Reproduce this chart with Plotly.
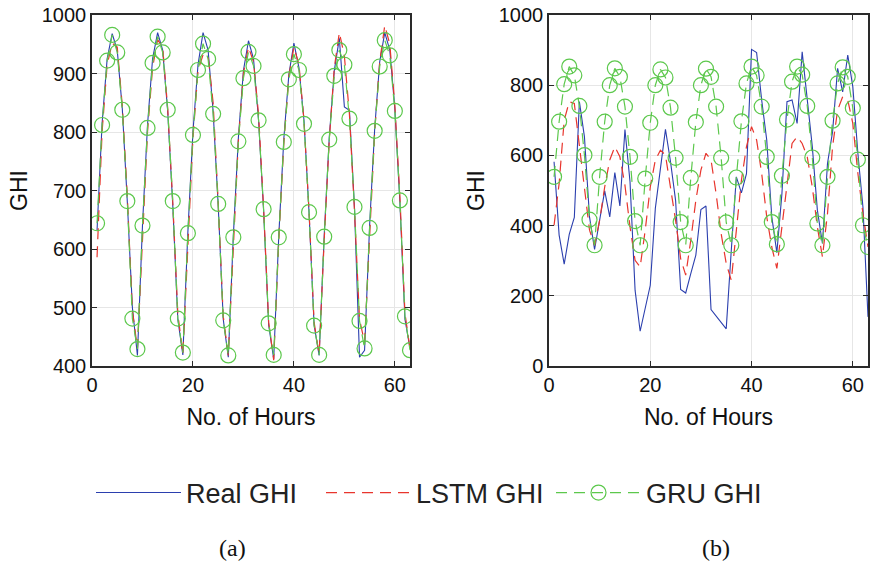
import plotly.graph_objects as go

hours = list(range(1, 64))

# (a) values
real_a = [632, 815, 925, 968, 940, 840, 680, 500, 418, 640, 812, 925, 970, 940, 835, 675,
          480, 419, 630, 800, 915, 970, 940, 835, 675, 480, 415, 622, 790, 905, 956, 925,
          820, 665, 470, 412, 622, 788, 898, 952, 910, 820, 662, 470, 418, 622, 790, 905,
          960, 843, 837, 670, 415, 427, 640, 805, 920, 970, 940, 840, 680, 480, 430]
lstm_a = [586, 800, 915, 952, 945, 845, 690, 495, 430, 625, 800, 910, 958, 945, 840, 680,
          490, 420, 615, 790, 905, 932, 930, 850, 680, 485, 418, 610, 785, 900, 945, 920,
          830, 670, 475, 410, 615, 780, 895, 945, 915, 820, 665, 475, 420, 615, 785, 910,
          970, 930, 830, 665, 480, 440, 630, 800, 920, 982, 950, 845, 690, 490, 430]
gru_a = [644, 812, 922, 966, 936, 838, 682, 481, 429, 640, 807, 918, 963, 936, 838, 682,
         481, 423, 627, 795, 906, 951, 925, 831, 677, 478, 418, 620, 784, 892, 937, 913,
         820, 668, 473, 419, 620, 783, 890, 933, 906, 814, 663, 469, 419, 621, 787, 896,
         940, 915, 823, 672, 477, 430, 636, 802, 912, 957, 931, 836, 683, 485, 427]

# (b) values
real_b = [582, 373, 290, 375, 423, 753, 653, 425, 332, 415, 499, 425, 551, 456, 674, 525,
          216, 99, 163, 230, 449, 560, 674, 582, 472, 218, 208, 263, 316, 446, 456, 161,
          142, 124, 106, 330, 539, 493, 548, 902, 893, 758, 644, 425, 323, 491, 753, 758,
          691, 895, 767, 625, 444, 349, 577, 667, 848, 781, 886, 796, 606, 453, 140]
lstm_b = [401, 520, 700, 753, 748, 625, 510, 387, 344, 415, 510, 587, 625, 596, 515, 396,
          301, 282, 387, 510, 587, 615, 601, 510, 415, 306, 259, 358, 472, 558, 606, 587,
          491, 377, 292, 244, 387, 529, 625, 682, 644, 549, 425, 339, 278, 396, 529, 634,
          653, 634, 596, 510, 396, 311, 434, 625, 729, 767, 758, 691, 549, 434, 339]
gru_b = [539, 696, 803, 853, 828, 741, 601, 417, 344, 539, 696, 800, 848, 824, 739, 596,
         413, 344, 534, 693, 800, 845, 822, 736, 593, 410, 344, 536, 695, 800, 847, 824,
         739, 593, 409, 344, 537, 697, 805, 853, 828, 739, 596, 410, 347, 542, 702, 810,
         853, 830, 741, 594, 406, 344, 539, 699, 805, 851, 824, 735, 588, 401, 339]

BLUE = "#2b3fae"
RED = "#e8352d"
GREEN = "#5cc84c"
SANS = "Liberation Sans, Arial"
SERIF = "Liberation Serif, Times New Roman"

fig = go.Figure()

for k, (real, lstm, gru) in enumerate([(real_a, lstm_a, gru_a), (real_b, lstm_b, gru_b)]):
    xa = "x" if k == 0 else "x2"
    ya = "y" if k == 0 else "y2"
    first = k == 0
    fig.add_trace(go.Scatter(x=hours, y=real, mode="lines", name="Real GHI",
                             line=dict(color=BLUE, width=1.1),
                             xaxis=xa, yaxis=ya, showlegend=first))
    fig.add_trace(go.Scatter(x=hours, y=lstm, mode="lines", name="LSTM GHI",
                             line=dict(color=RED, width=1.2, dash="11px,7px"),
                             xaxis=xa, yaxis=ya, showlegend=first))
    fig.add_trace(go.Scatter(x=hours, y=gru, mode="lines+markers", name="GRU GHI",
                             line=dict(color=GREEN, width=1.2, dash="11px,7px"),
                             marker=dict(symbol="circle-open", size=15,
                                         color=GREEN, line=dict(width=1.2, color=GREEN)),
                             xaxis=xa, yaxis=ya, showlegend=first))

axis_common = dict(showline=True, linecolor="#2a2a2a", linewidth=1.5, mirror="ticks",
                   ticks="inside", ticklen=5, tickcolor="#2a2a2a", automargin=False,
                   showgrid=True, gridcolor="#e6e6e6", gridwidth=1, zeroline=False,
                   tickfont=dict(family=SANS, size=20, color="#111111"))
title_font = dict(family=SANS, size=23, color="#111111")

fig.update_layout(
    width=871, height=571,
    paper_bgcolor="white", plot_bgcolor="white",
    margin=dict(l=0, r=0, t=0, b=0),
    showlegend=True,
    xaxis=dict(domain=[92 / 871, 410 / 871], range=[0, 63], tickvals=[0, 20, 40, 60],
               anchor="y", title=dict(text="No. of Hours", standoff=14, font=title_font),
               **axis_common),
    yaxis=dict(domain=[1 - 366 / 571, 1 - 15 / 571], range=[400, 1000], dtick=100,
               anchor="x", title=dict(text="GHI", standoff=8, font=title_font),
               **axis_common),
    xaxis2=dict(domain=[549 / 871, 868 / 871], range=[0, 63], tickvals=[0, 20, 40, 60],
                anchor="y2", title=dict(text="No. of Hours", standoff=14, font=title_font),
                **axis_common),
    yaxis2=dict(domain=[1 - 366 / 571, 1 - 15 / 571], range=[0, 1000], dtick=200,
                anchor="x2", title=dict(text="GHI", standoff=8, font=title_font),
                **axis_common),
    legend=dict(orientation="h", x=91 / 871, xanchor="left", y=1 - 493 / 571, yanchor="middle",
                itemwidth=85, entrywidth=130, entrywidthmode="pixels",
                font=dict(family=SANS, size=27, color="#222222"),
                bgcolor="rgba(0,0,0,0)"),
    annotations=[
        dict(text="(a)", x=232 / 871, y=1 - 548 / 571, xref="paper", yref="paper",
             xanchor="center", yanchor="middle",
             showarrow=False, font=dict(family=SERIF, size=24, color="#111111")),
        dict(text="(b)", x=716 / 871, y=1 - 548 / 571, xref="paper", yref="paper",
             xanchor="center", yanchor="middle",
             showarrow=False, font=dict(family=SERIF, size=24, color="#111111")),
    ],
)

fig.write_html("out.html", config={"displayModeBar": False},
               post_script="document.body.style.margin='0';")
